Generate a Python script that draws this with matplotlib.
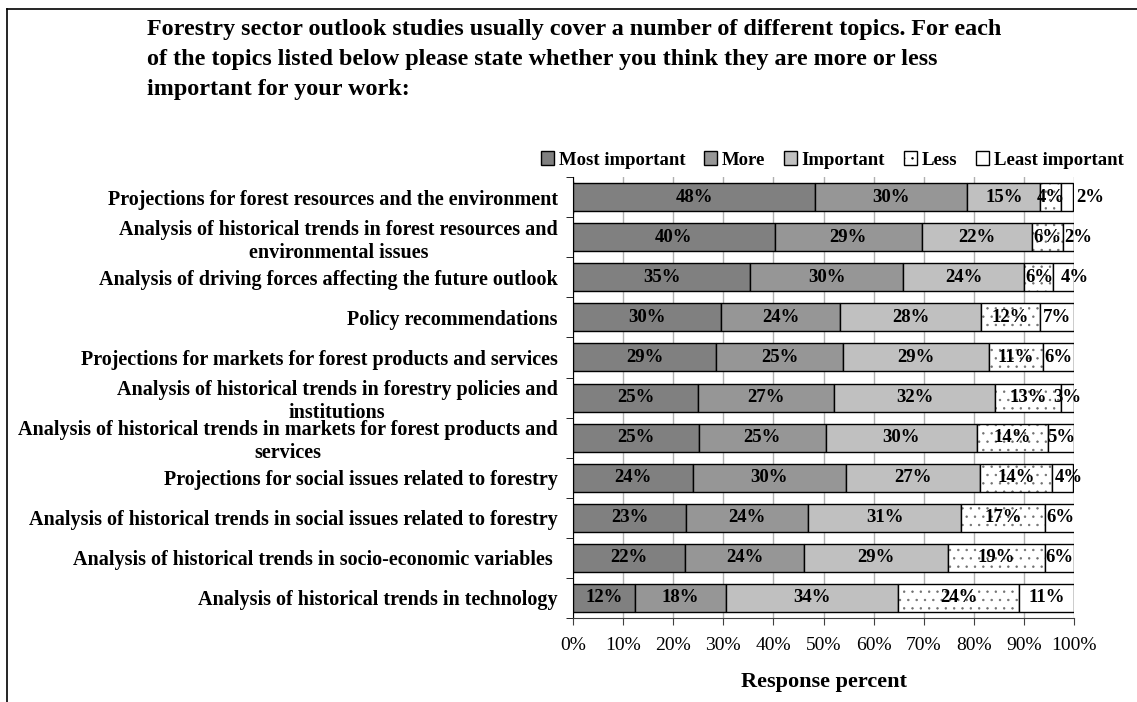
import matplotlib
matplotlib.use("Agg")
from matplotlib import pyplot as plt
from matplotlib.lines import Line2D
import numpy as np

plt.rcParams['font.family'] = ['Liberation Serif', 'DejaVu Serif']
plt.rcParams['hatch.linewidth'] = 0.5

topics = [
    'Projections for forest resources and the environment',
    'Analysis of historical trends in forest resources and\nenvironmental issues',
    'Analysis of driving forces affecting the future outlook',
    'Policy recommendations',
    'Projections for markets for forest products and services',
    'Analysis of historical trends in forestry policies and\ninstitutions',
    'Analysis of historical trends in markets for forest products and\nservices',
    'Projections for social issues related to forestry',
    'Analysis of historical trends in social issues related to forestry',
    'Analysis of historical trends in socio-economic variables ',
    'Analysis of historical trends in technology',
]

levels = ['Most important', 'More', 'Important', 'Less', 'Least important']

most_important = [48.3, 40.3, 35.4, 29.5, 28.6, 25.0, 25.1, 24.0, 22.6, 22.4, 12.4]
more = [30.4, 29.3, 30.4, 23.8, 25.3, 27.1, 25.4, 30.4, 24.3, 23.7, 18.1]
important = [14.6, 22.0, 24.3, 28.1, 29.1, 32.1, 30.1, 26.9, 30.6, 28.8, 34.4]
less = [4.2, 6.2, 5.8, 11.8, 10.8, 13.2, 14.2, 14.4, 16.8, 19.3, 24.1]
least_important = [2.2, 2.2, 4.0, 6.8, 6.2, 2.6, 5.2, 4.0, 5.8, 5.8, 11.0]

series = [most_important, more, important, less, least_important]
colors = ['#808080', '#969696', '#c0c0c0', 'white', 'white']
hatches = [None, None, None, '..', None]

# nudge (in % units) for the labels of the narrow last segments
end_label_shift = [4.6, 1.9, 2.2, 0, 0, 0, 0, 1.2, 0, 0, 0]

fig = plt.figure(figsize=(11.37, 7.02), dpi=100)
ax = fig.add_axes([0.504, 0.1197, 0.4406, 0.628])

y = np.arange(len(topics))
left = np.zeros(len(topics))
last = len(levels) - 1
for k, (name, vals, col, h) in enumerate(zip(levels, series, colors, hatches)):
    vals = np.array(vals)
    if h:
        # dotted fill first, then the black outline on top
        ax.barh(y, vals, left=left, height=0.7, color=col, edgecolor='#707070',
                linewidth=0, hatch=h, zorder=3)
        ax.barh(y, vals, left=left, height=0.7, fill=False, edgecolor='black',
                linewidth=1.0, zorder=3)
        ax.barh([0], [0], color=col, edgecolor='black', hatch=h, label=name)
    else:
        ax.barh(y, vals, left=left, height=0.7, color=col, edgecolor='black',
                linewidth=1.0, label=name, zorder=3)
    for i, (yi, l, v) in enumerate(zip(y, left, vals)):
        xpos = l + v / 2
        if k == last:
            xpos += end_label_shift[i]
        ax.text(xpos, yi, f'{v:.0f}%', ha='center', va='center',
                fontsize=13.5, fontweight='bold', zorder=4, clip_on=False)
    left += vals

ax.set_xlim(0, 100)
ax.set_ylim(len(topics) - 0.5, -0.5)
ax.set_xticks(np.arange(0, 101, 10))
ax.set_xticklabels([f'{t}%' for t in range(0, 101, 10)], fontsize=14)
ax.xaxis.grid(True, color='#b0b0b0', linewidth=1.0, zorder=0)
ax.set_axisbelow(True)

ax.set_yticks(y)
ax.set_yticklabels(topics, fontsize=14.5, fontweight='bold', multialignment='center')
ax.tick_params(axis='y', length=0, pad=11)
ax.set_yticks(np.arange(-0.5, len(topics), 1), minor=True)
ax.tick_params(axis='y', which='minor', length=5, direction='out', color='black')
ax.tick_params(axis='x', length=5, direction='out', pad=9, color='#404040')

for s in ['top', 'right']:
    ax.spines[s].set_visible(False)
ax.spines['bottom'].set_color('#404040')
ax.spines['left'].set_color('black')

ax.set_xlabel('Response percent', fontsize=16, fontweight='bold', labelpad=13)

fig.text(0.129, 0.973,
         'Forestry sector outlook studies usually cover a number of different topics. For each\n'
         'of the topics listed below please state whether you think they are more or less\n'
         'important for your work:',
         ha='left', va='top', fontsize=17.4, fontweight='bold', linespacing=1.55)

fig.legend(loc='center', bbox_to_anchor=(0.732, 0.772), ncol=5, frameon=False,
           prop={'weight': 'bold', 'size': 13.5}, handlelength=0.7, handleheight=0.7,
           handletextpad=0.25, columnspacing=1.0, borderaxespad=0)

# partial frame around the figure
fig.add_artist(Line2D([0.0062, 0.0062], [0.0, 0.987], color='black', linewidth=1.2,
                      transform=fig.transFigure))
fig.add_artist(Line2D([0.0062, 1.0], [0.987, 0.987], color='black', linewidth=1.2,
                      transform=fig.transFigure))

fig.savefig('out.png', dpi=100)
